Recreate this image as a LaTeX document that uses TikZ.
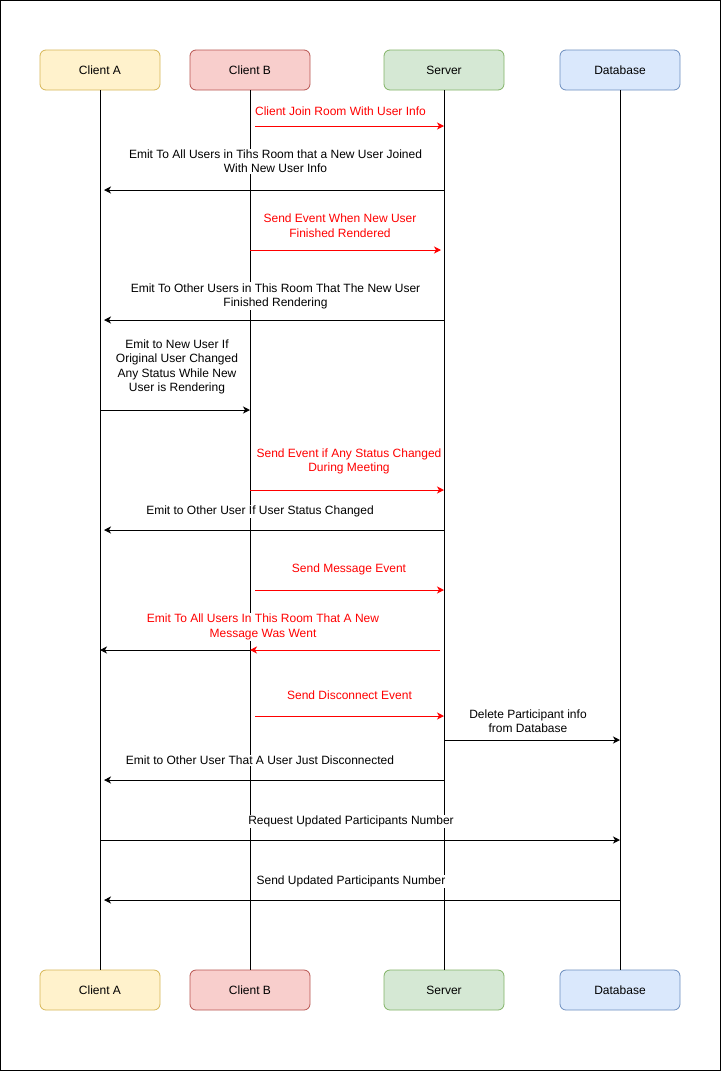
\documentclass[tikz,border=0pt]{standalone}
\usepackage{fontspec}
\setmainfont{Liberation Sans}
\usetikzlibrary{arrows.meta}
\definecolor{yfill}{HTML}{FFF2CC}\definecolor{ydraw}{HTML}{D6B656}
\definecolor{rfill}{HTML}{F8CECC}\definecolor{rdraw}{HTML}{B85450}
\definecolor{gfill}{HTML}{D5E8D4}\definecolor{gdraw}{HTML}{82B366}
\definecolor{bfill}{HTML}{DAE8FC}\definecolor{bdraw}{HTML}{6C8EBF}
\definecolor{msgred}{HTML}{FF0000}
\begin{document}
\begin{tikzpicture}[x=1pt,y=-1pt,
  actor/.style={draw, rounded corners=6pt, minimum width=120pt, minimum height=40pt, inner sep=0pt, line width=0.8pt, font=\fontsize{12}{14.5}\selectfont},
  life/.style={line width=1pt, black},
  msg/.style={line width=1pt, -{Stealth[length=7pt,width=7pt,inset=2pt]}},
  redmsg/.style={msg, msgred},
  lbl/.style={fill=white, inner sep=1pt, align=center, yshift=-1.2pt, font=\fontsize{12}{14.5}\selectfont},
  redlbl/.style={lbl, text=msgred}]
\useasboundingbox (0,0) rectangle (721,1071);
\draw[line width=1pt] (0.5,0.5) rectangle (720.5,1070.5);
% actors
\node[actor, fill=yfill, draw=ydraw] (topA) at (100,70) {Client A};
\node[actor, fill=rfill, draw=rdraw] (topB) at (250,70) {Client B};
\node[actor, fill=gfill, draw=gdraw] (topS) at (444,70) {Server};
\node[actor, fill=bfill, draw=bdraw] (topD) at (620,70) {Database};
\node[actor, fill=yfill, draw=ydraw] (botA) at (100,990) {Client A};
\node[actor, fill=rfill, draw=rdraw] (botB) at (250,990) {Client B};
\node[actor, fill=gfill, draw=gdraw] (botS) at (444,990) {Server};
\node[actor, fill=bfill, draw=bdraw] (botD) at (620,990) {Database};
% lifelines
\draw[life] (topA) -- (botA);
\draw[life] (topB) -- (botB);
\draw[life] (topS) -- (botS);
\draw[life] (topD) -- (botD);
% message end points
\coordinate (m1s) at (255,126); \coordinate (m1e) at (444,126);
\coordinate (m2s) at (444,190); \coordinate (m2e) at (104,190);
\coordinate (m3s) at (250,250); \coordinate (m3e) at (441,250);
\coordinate (m4s) at (444,320); \coordinate (m4e) at (104,320);
\coordinate (m5s) at (100,410); \coordinate (m5e) at (250,410);
\coordinate (m6s) at (250,490); \coordinate (m6e) at (444,490);
\coordinate (m7s) at (444,530); \coordinate (m7e) at (104,530);
\coordinate (m8s) at (255,590); \coordinate (m8e) at (444,590);
\coordinate (m9s) at (440,650); \coordinate (m9e) at (250,650);
\coordinate (m9b) at (100,650);
\coordinate (m10s) at (255,716); \coordinate (m10e) at (444,716);
\coordinate (m11s) at (444,740); \coordinate (m11e) at (620,740);
\coordinate (m12s) at (444,780); \coordinate (m12e) at (104,780);
\coordinate (m13s) at (100,840); \coordinate (m13e) at (620,840);
\coordinate (m14s) at (620,900); \coordinate (m14e) at (104,900);
% messages
\draw[redmsg] (m1s) -- (m1e);
\draw[msg] (m2s) -- (m2e);
\draw[redmsg] (m3s) -- (m3e);
\draw[msg] (m4s) -- (m4e);
\draw[msg] (m5s) -- (m5e);
\draw[redmsg] (m6s) -- (m6e);
\draw[msg] (m7s) -- (m7e);
\draw[redmsg] (m8s) -- (m8e);
\draw[redmsg] (m9s) -- (m9e);
\draw[msg] (m9e) -- (m9b);
\draw[redmsg] (m10s) -- (m10e);
\draw[msg] (m11s) -- (m11e);
\draw[msg] (m12s) -- (m12e);
\draw[msg] (m13s) -- (m13e);
\draw[msg] (m14s) -- (m14e);
% labels
\node[redlbl] (l1) at (340.5,110) {Client Join Room With User Info};
\node[lbl] (l2) at (275.5,160) {Emit To All Users in Tihs Room that a New User Joined\\With New User Info};
\node[redlbl] (l3) at (340,224.5) {Send Event When New User\\Finished Rendered};
\node[lbl] (l4) at (275.5,295) {Emit To Other Users in This Room That The New User\\Finished Rendering};
\node[lbl] (l5) at (177,365.5) {Emit to New User If\\Original User Changed\\Any Status While New\\User is Rendering};
\node[redlbl] (l6) at (349,460) {Send Event if Any Status Changed\\During Meeting};
\node[lbl] (l7) at (260,510) {Emit to Other User If User Status Changed};
\node[redlbl] (l8) at (349,568.5) {Send Message Event};
\node[redlbl] (l9) at (263,625.5) {Emit To All Users In This Room That A New\\Message Was Went};
\node[redlbl] (l10) at (349.5,694.5) {Send Disconnect Event};
\node[lbl] (l11) at (528,720) {Delete Participant info\\from Database};
\node[lbl] (l12) at (260,759.5) {Emit to Other User That A User Just Disconnected};
\node[lbl] (l13) at (351,820) {Request Updated Participants Number};
\node[lbl] (l14) at (351,880) {Send Updated Participants Number};
\end{tikzpicture}
\end{document}
